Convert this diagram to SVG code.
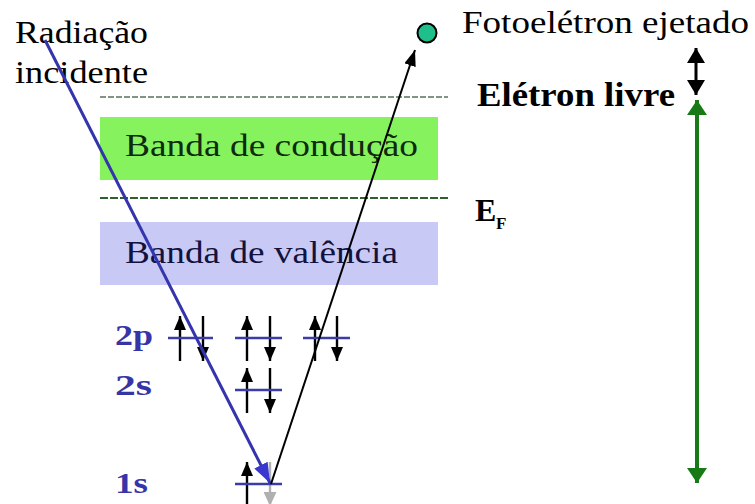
<svg xmlns="http://www.w3.org/2000/svg" width="755" height="504" viewBox="0 0 755 504">
<defs>
<style>
text{font-family:"Liberation Serif","Times New Roman",serif;}
.t{font-size:32px;fill:#000;}
.b{font-weight:bold;}
.orb{font-size:30px;font-weight:bold;fill:#3535a8;}
.lvl{stroke:#3c3ca8;stroke-width:2.6;}
.spin{stroke:#000;stroke-width:2.4;fill:none;}
.dash1{stroke:#5a735a;stroke-width:1.3;stroke-dasharray:6 2;}
.dash2{stroke:#2f5f2f;stroke-width:2;stroke-dasharray:8 2;}
</style>
<marker id="hs" viewBox="0 0 14 12" refX="14" refY="6" markerWidth="14" markerHeight="12" markerUnits="userSpaceOnUse" orient="auto-start-reverse"><path d="M0,0 L14,6 L0,12 z" fill="#000"/></marker>
<marker id="hg" viewBox="0 0 14 13" refX="14" refY="6.5" markerWidth="14" markerHeight="13" markerUnits="userSpaceOnUse" orient="auto-start-reverse"><path d="M0,0 L14,6.5 L0,13 z" fill="#b0b0b0"/></marker>
<marker id="hk" viewBox="0 0 15 18" refX="15" refY="9" markerWidth="15" markerHeight="18" markerUnits="userSpaceOnUse" orient="auto-start-reverse"><path d="M0,0 L15,9 L0,18 z" fill="#000"/></marker>
<marker id="hgr" viewBox="0 0 15 20" refX="15" refY="10" markerWidth="15" markerHeight="20" markerUnits="userSpaceOnUse" orient="auto-start-reverse"><path d="M0,0 L15,10 L0,20 z" fill="#177a17"/></marker>
<marker id="hb" viewBox="0 0 20 15" refX="20" refY="7.5" markerWidth="20" markerHeight="15" markerUnits="userSpaceOnUse" orient="auto"><path d="M0,0 L20,7.5 L0,15 z" fill="#3838d0"/></marker>
<marker id="hp" viewBox="0 0 16 12" refX="16" refY="6" markerWidth="16" markerHeight="12" markerUnits="userSpaceOnUse" orient="auto"><path d="M0,0 L16,6 L0,12 z" fill="#000"/></marker>
</defs>
<rect width="755" height="504" fill="#fff"/>

<g id="banda-conducao">
<rect x="100" y="117" width="338" height="63" fill="#86f35e"/>
<text class="t" x="125" y="156" style="fill:#0f2a0f" textLength="293" lengthAdjust="spacingAndGlyphs">Banda de condução</text>
</g>
<g id="banda-valencia">
<rect x="100" y="222" width="338" height="63" fill="#c9c9f6"/>
<text class="t" x="125" y="263" style="fill:#12123f" textLength="273" lengthAdjust="spacingAndGlyphs">Banda de valência</text>
</g>
<g id="nivel-vacuo"><line class="dash1" x1="100" y1="97" x2="448" y2="97"/></g>
<g id="nivel-fermi"><line class="dash2" x1="100" y1="198" x2="448" y2="198"/></g>

<g id="radiacao">
<text class="t" x="15" y="43" textLength="133" lengthAdjust="spacingAndGlyphs">Radiação</text>
<text class="t" x="15" y="83" textLength="133" lengthAdjust="spacingAndGlyphs">incidente</text>
</g>
<g id="fotoeletron">
<circle cx="427" cy="33" r="9.5" fill="#1fbf8c" stroke="#000" stroke-width="2"/>
<text class="t" x="462" y="33" textLength="287" lengthAdjust="spacingAndGlyphs">Fotoelétron ejetado</text>
</g>
<g id="eletron-livre">
<text class="t b" x="477" y="106" style="font-size:33px" textLength="198" lengthAdjust="spacingAndGlyphs">Elétron livre</text>
</g>
<g id="ef">
<text class="b" x="475" y="221" style="font-size:32px">E</text>
<text class="b" x="496" y="229" style="font-size:17px">F</text>
</g>

<g id="orbital-2p">
<text class="orb" x="115" y="345" textLength="38" lengthAdjust="spacingAndGlyphs">2p</text>
<line class="spin" x1="180" y1="361" x2="180" y2="316" marker-end="url(#hs)"/>
<line class="spin" x1="203" y1="316" x2="203" y2="361" marker-end="url(#hs)"/>
<line class="spin" x1="247" y1="361" x2="247" y2="316" marker-end="url(#hs)"/>
<line class="spin" x1="270" y1="316" x2="270" y2="361" marker-end="url(#hs)"/>
<line class="spin" x1="315" y1="361" x2="315" y2="316" marker-end="url(#hs)"/>
<line class="spin" x1="337" y1="316" x2="337" y2="361" marker-end="url(#hs)"/>
<line class="lvl" x1="168" y1="338" x2="213" y2="338"/>
<line class="lvl" x1="235" y1="338" x2="282" y2="338"/>
<line class="lvl" x1="303" y1="338" x2="350" y2="338"/>
</g>
<g id="orbital-2s">
<text class="orb" x="115" y="395" textLength="37" lengthAdjust="spacingAndGlyphs">2s</text>
<line class="spin" x1="247" y1="413" x2="247" y2="368" marker-end="url(#hs)"/>
<line class="spin" x1="270" y1="368" x2="270" y2="413" marker-end="url(#hs)"/>
<line class="lvl" x1="235" y1="390" x2="282" y2="390"/>
</g>
<g id="orbital-1s">
<text class="orb" x="115" y="493" textLength="33" lengthAdjust="spacingAndGlyphs">1s</text>
<line x1="270" y1="462" x2="270" y2="506" stroke="#b0b0b0" stroke-width="2.4" marker-end="url(#hg)"/>
<line class="spin" x1="247" y1="506" x2="247" y2="462" marker-end="url(#hs)"/>
<line class="lvl" x1="235" y1="484" x2="282" y2="484"/>
</g>

<g id="connectors">
<line x1="45" y1="40" x2="270" y2="483" stroke="#3434ac" stroke-width="3" marker-end="url(#hb)"/>
<line x1="271" y1="484" x2="415" y2="50" stroke="#000" stroke-width="2" marker-end="url(#hp)"/>
<line x1="696" y1="48" x2="696" y2="95" stroke="#000" stroke-width="3" marker-start="url(#hk)" marker-end="url(#hk)"/>
<line x1="697" y1="100" x2="697" y2="483" stroke="#177a17" stroke-width="4" marker-start="url(#hgr)" marker-end="url(#hgr)"/>
</g>
</svg>
